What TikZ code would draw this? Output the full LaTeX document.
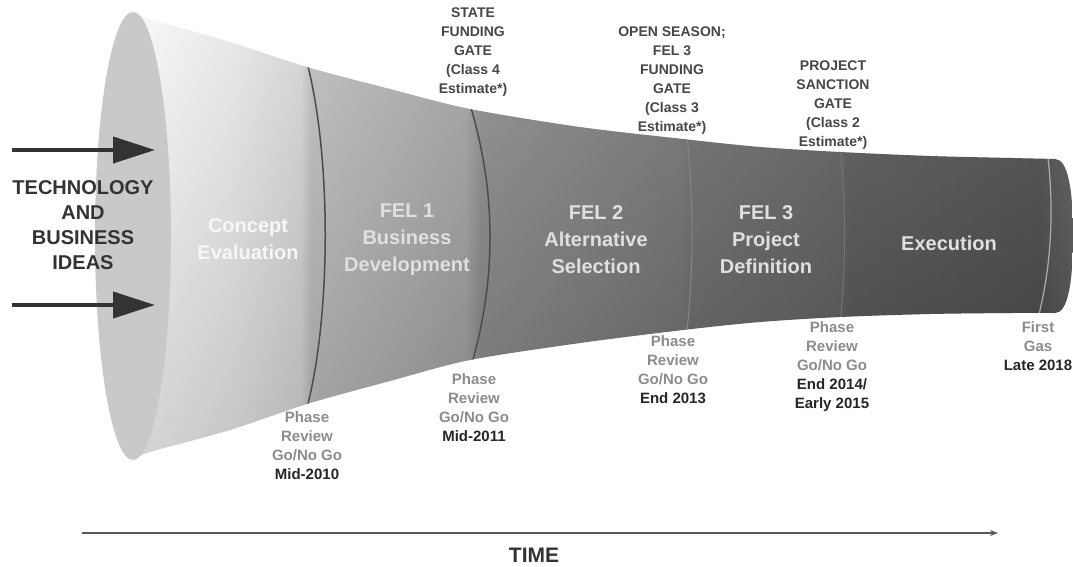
\documentclass[tikz,border=0pt]{standalone}
\usepackage{fontspec}
\setmainfont{Liberation Sans}
\usetikzlibrary{arrows.meta}
\pgfdeclarehorizontalshading{fnl}{100bp}{color(0bp)=(black!2); color(25bp)=(black!2); color(30.2bp)=(black!9); color(33.9bp)=(black!17); color(34.5bp)=(black!27); color(42.7bp)=(black!38); color(43.5bp)=(black!47); color(54.1bp)=(black!57); color(54.6bp)=(black!59); color(62.6bp)=(black!65); color(63.1bp)=(black!68); color(73.2bp)=(black!73); color(75bp)=(black!67); color(100bp)=(black!67)}
\newcommand\pgrey[1]{\textcolor{black!45}{#1}}
\newcommand\pdark[1]{\textcolor{black!85}{#1}}
\def\fnlpath{plot[smooth] coordinates {(133,12) (150,19) (230,42) (307,67) (390,89) (470,109) (580,127) (683,139) (760,147) (840,152) (930,156) (1012,158) (1055,159)} .. controls (1068,159) and (1073,190) .. (1073,235) .. controls (1073,282) and (1068,313) .. (1055,313) -- plot[smooth] coordinates {(1055,313) (1012,313) (930,314) (840,317) (760,322) (683,330) (580,343) (470,360) (390,381) (307,404) (230,430) (150,452) (133,460)} -- cycle}
\begin{document}
\begin{tikzpicture}[x=1pt,y=-1pt,
  toplbl/.style={align=center, inner sep=0pt, text=black!72, font=\bfseries\fontsize{14}{19}\selectfont},
  botlbl/.style={align=center, inner sep=0pt, font=\bfseries\fontsize{15}{19}\selectfont},
  phaselbl/.style={align=center, inner sep=0pt, text=black!12, font=\bfseries\fontsize{20}{27}\selectfont},
  bigarrow/.style={line width=4pt, black!80, -{Triangle[length=42pt,width=26pt]}},
  bnd/.style={line width=1.5pt, black!70},
  faint/.style={line width=1pt, black!48}]
\useasboundingbox (0,0) rectangle (1073,566);
\fill[white] (0,0) rectangle (1073,566);
% funnel body
\begin{scope}
  \clip \fnlpath;
  \shade[shading=fnl] (133,0) rectangle (1073,470);
  \shade[top color=white, bottom color=black, fill opacity=0.15] (133,0) rectangle (1073,470);
  \draw[bnd] (305,55) .. controls (332,150) and (332,320) .. (305,415);
  \draw[bnd] (468,98) .. controls (497,190) and (497,280) .. (470,370);
  \draw[faint] (686,126) .. controls (694,200) and (694,270) .. (686,340);
  \draw[faint, black!55] (840,140) .. controls (846,210) and (846,260) .. (840,327);
  \draw[line width=1.2pt, black!32] (1047,150) .. controls (1055,210) and (1051,270) .. (1037,322);
\end{scope}
% mouth
\fill[black!21] (133,236) ellipse [x radius=38, y radius=224];
% arrows
\coordinate (a1s) at (12,150);
\coordinate (a1e) at (155,150);
\coordinate (a2s) at (12,305);
\coordinate (a2e) at (155,305);
\draw[bigarrow] (a1s) -- (a1e);
\draw[bigarrow] (a2s) -- (a2e);
% time axis
\coordinate (ts) at (82,533);
\coordinate (te) at (998,533);
\draw[line width=1.8pt, black!65, -{Stealth[length=8pt,width=6pt]}] (ts) -- (te);
\node[inner sep=0pt, text=black!80, font=\bfseries\fontsize{21}{25}\selectfont] (time) at (534,555) {TIME};
% left label
\node[align=center, inner sep=0pt, text=black!80, font=\bfseries\fontsize{20}{25}\selectfont] (ideas) at (83,225.5) {TECHNOLOGY\\AND\\BUSINESS\\IDEAS};
% phase labels
\node[phaselbl, text=black!3] (concept) at (248,239.5) {Concept\\Evaluation};
\node[phaselbl] (fel1) at (407,240) {FEL 1\\Business\\Development};
\node[phaselbl] (fel2) at (596,240) {FEL 2\\Alternative\\Selection};
\node[phaselbl] (fel3) at (766,240) {FEL 3\\Project\\Definition};
\node[phaselbl] (exec) at (949,243) {Execution};
% top gates
\node[toplbl] (state) at (473,52.5) {STATE\\FUNDING\\GATE\\(Class 4\\Estimate*)};
\node[toplbl] (open) at (672,80.5) {OPEN SEASON;\\FEL 3\\FUNDING\\GATE\\(Class 3\\Estimate*)};
\node[toplbl] (proj) at (833,105) {PROJECT\\SANCTION\\GATE\\(Class 2\\Estimate*)};
% bottom reviews
\node[botlbl] (m2010) at (307,446) {\pgrey{Phase}\\\pgrey{Review}\\\pgrey{Go/No Go}\\\pdark{Mid-2010}};
\node[botlbl] (m2011) at (474,408) {\pgrey{Phase}\\\pgrey{Review}\\\pgrey{Go/No Go}\\\pdark{Mid-2011}};
\node[botlbl] (e2013) at (673,370) {\pgrey{Phase}\\\pgrey{Review}\\\pgrey{Go/No Go}\\\pdark{End 2013}};
\node[botlbl] (e2014) at (832,366.5) {\pgrey{Phase}\\\pgrey{Review}\\\pgrey{Go/No Go}\\\pdark{End 2014/}\\\pdark{Early 2015}};
\node[botlbl] (fgas) at (1038,346.5) {\pgrey{First}\\\pgrey{Gas}\\\pdark{Late 2018}};
\end{tikzpicture}
\end{document}
